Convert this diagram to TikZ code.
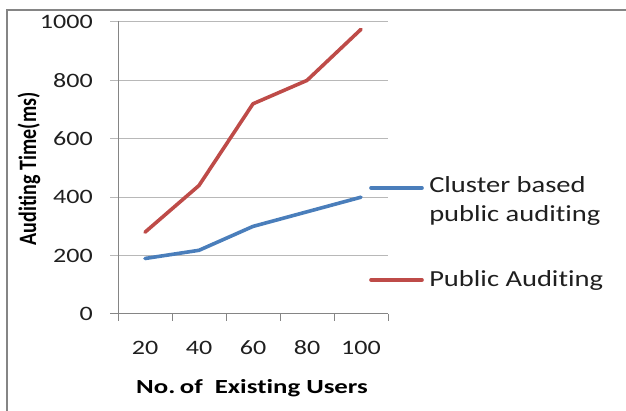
\documentclass[tikz,border=0pt]{standalone}
\usepackage{fontspec}
\setmainfont{Carlito}[Ligatures=NoCommon]
\definecolor{serblue}{HTML}{4A7EBB}
\definecolor{serred}{HTML}{BE4B48}
\begin{document}
\begin{tikzpicture}[x=1pt,y=-1pt,
  gridline/.style={draw=black!28, line width=1pt},
  axisline/.style={draw=black!48, line width=1pt},
  frameline/.style={draw=black!48, line width=2pt},
  ticklbl/.style={font=\fontsize{20.5}{24}\selectfont, xscale=1.27, inner sep=0pt, text=black!88},
  leglbl/.style={font=\fontsize{23}{29.5}\selectfont, xscale=1.24, inner sep=0pt, text=black!88, align=left},
  axtitle/.style={font=\bfseries\fontsize{20}{24}\selectfont, inner sep=0pt, text=black},
  series/.style={line width=3.6pt, line cap=round, line join=round},
]
\useasboundingbox (0,0) rectangle (626,411);
% outer frame (cut at right and bottom)
\draw[frameline] (7,420) -- (7,10) -- (640,10);
% gridlines
\foreach \v in {200,400,...,1000}
  \draw[gridline] (110,{314-0.292*\v}) -- (388,{314-0.292*\v});
% axes
\draw[axisline] (118,21) -- (118,314);
\draw[axisline] (110,314) -- (388,314);
\foreach \i in {0,...,5}
  \draw[axisline] ({118+54*\i},314) -- ({118+54*\i},321);
% y tick labels
\foreach \v in {0,200,...,1000}
  \node[ticklbl, anchor=east] (y\v) at (93,{314-0.292*\v}) {\v};
% x tick labels
\foreach \v [count=\i from 0] in {20,40,60,80,100}
  \node[ticklbl] (x\v) at ({145+54*\i},348) {\v};
% axis titles
\node[axtitle, xscale=1.34] (xt) at (252,388) {No.\,of\ \ Existing Users};
\node[axtitle, rotate=90, yscale=1.25] (yt) at (29,169) {Auditing Time(ms)};
% data points
\coordinate (r1) at (145,232.2);
\coordinate (r2) at (199,185.5);
\coordinate (r3) at (253,103.8);
\coordinate (r4) at (307,80.4);
\coordinate (r5) at (361,29.3);
\coordinate (b1) at (145,258.5);
\coordinate (b2) at (199,250.3);
\coordinate (b3) at (253,226.4);
\coordinate (b4) at (307,211.8);
\coordinate (b5) at (361,197.2);
\draw[series, serred] (r1) -- (r2) -- (r3) -- (r4) -- (r5);
\draw[series, serblue] (b1) -- (b2) -- (b3) -- (b4) -- (b5);
% legend
\coordinate (lb1) at (371,188);
\coordinate (lb2) at (422,188);
\coordinate (lr1) at (371,280);
\coordinate (lr2) at (422,280);
\draw[series, serblue] (lb1) -- (lb2);
\draw[series, serred] (lr1) -- (lr2);
\node[leglbl, anchor=north west] (lgb) at (429,176) {Cluster based\\public auditing};
\node[leglbl, anchor=west] (lgr) at (429,280) {Public Auditing};
\end{tikzpicture}
\end{document}
